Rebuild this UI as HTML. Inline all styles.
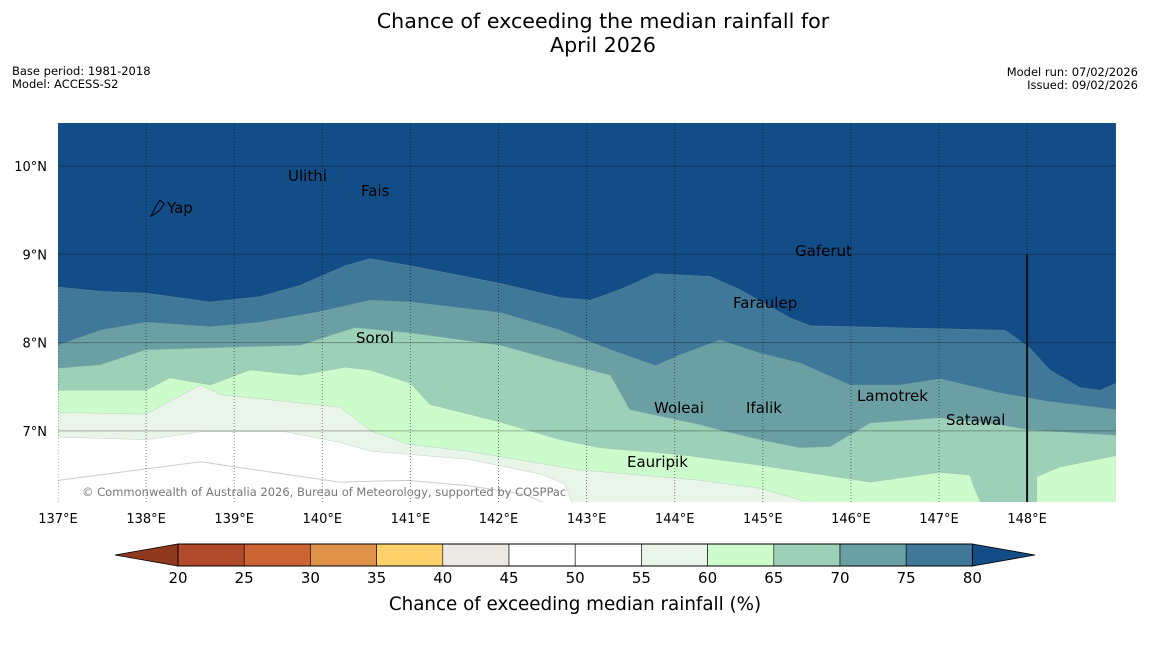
<!DOCTYPE html>
<html><head><meta charset="utf-8"><style>
body{margin:0;background:#fff;width:1150px;height:644px;overflow:hidden;font-family:"Liberation Sans","DejaVu Sans",sans-serif}
svg text{font-family:"DejaVu Sans","Liberation Sans",sans-serif}
</style></head><body>
<svg id="chart" width="1150" height="644" xmlns="http://www.w3.org/2000/svg">
<text x="603" y="28" font-size="20.6" text-anchor="middle">Chance of exceeding the median rainfall for</text>
<text x="603" y="52" font-size="20.6" text-anchor="middle">April 2026</text>
<text x="12" y="75" font-size="11.5">Base period: 1981-2018</text>
<text x="12" y="88" font-size="11.5">Model: ACCESS-S2</text>
<text x="1138" y="76" font-size="11.5" text-anchor="end">Model run: 07/02/2026</text>
<text x="1138" y="89" font-size="11.5" text-anchor="end">Issued: 09/02/2026</text>
<defs><clipPath id="mapclip"><rect x="58" y="123" width="1058" height="379"/></clipPath></defs>
<g id="map" clip-path="url(#mapclip)"></g>
<g id="axes"></g>
<g id="cbar"></g>
<text x="575" y="610" font-size="18.3" text-anchor="middle">Chance of exceeding median rainfall (%)</text>
</svg>
<script>
const lonMin=137, lonMax=149.01, latMin=6.15, latMax=10.49;
const lonTicks=[137,138,139,140,141,142,143,144,145,146,147,148];
const latTicks=[7,8,9,10];
// contour boundaries (lon, lat) — region above each boundary gets the fill colour
const c55Lon=[137,138.0,138.62,139.58,140.2,140.55,141.65,142.48,142.75,142.85];
const c55Lat=[6.93,6.90,6.99,6.99,6.87,6.77,6.68,6.51,6.40,6.15];
const c60Lon=[137,138.0,138.62,138.85,140.2,140.55,140.97,141.65,142.9,143.38,144.29,144.97,145.42,145.54];
const c60Lat=[7.21,7.19,7.52,7.41,7.27,7.00,6.85,6.77,6.56,6.52,6.44,6.35,6.22,6.15];
const c65Lon=[137,138.0,138.27,138.73,139.18,139.75,140.26,140.54,141.0,141.22,142.02,142.7,143.15,144.06,144.97,146.22,147.01,147.35,147.41,147.49,148.11,148.11,148.37,149.01];
const c65Lat=[7.46,7.46,7.60,7.52,7.69,7.63,7.72,7.69,7.54,7.30,7.10,6.90,6.81,6.73,6.61,6.42,6.53,6.50,6.33,6.15,6.15,6.48,6.59,6.72];
const c70Lon=[137,137.48,138.0,138.73,139.75,140.37,141.0,142.02,142.7,143.27,143.49,144.29,144.51,144.97,145.42,145.76,146.22,147.01,147.69,148.03,149.01];
const c70Lat=[7.71,7.75,7.92,7.94,7.97,8.17,8.11,7.97,7.78,7.63,7.24,7.07,7.01,6.90,6.81,6.82,7.09,7.15,7.07,7.01,6.95];
const c75Lon=[137,137.48,138.0,138.73,139.29,139.97,140.54,141.0,142.02,142.7,143.27,143.78,144.06,144.51,144.97,145.42,145.99,146.56,147.01,147.69,148.26,149.01];
const c75Lat=[7.97,8.14,8.23,8.18,8.23,8.35,8.48,8.46,8.34,8.14,7.92,7.74,7.86,8.03,7.88,7.77,7.52,7.52,7.59,7.43,7.33,7.24];
const c80Lon=[137,137.48,138.0,138.73,139.29,139.75,140.26,140.54,141.0,142.02,142.7,143.04,143.38,143.78,144.4,144.74,145.31,145.54,147.75,148.03,148.26,148.6,148.83,149.01];
const c80Lat=[8.63,8.58,8.56,8.46,8.52,8.65,8.87,8.95,8.87,8.67,8.51,8.48,8.60,8.78,8.75,8.60,8.28,8.19,8.14,7.94,7.69,7.49,7.46,7.54];
const c50Lon=[137,138.62,140.2,140.97,141.65,142.3,142.6];
const c50Lat=[6.44,6.65,6.42,6.44,6.38,6.28,6.15];
const cbLevels=[20,25,30,35,40,45,50,55,60,65,70,75,80];
const cbColors=["#b14a2a","#cc6433","#e09248","#fdd06a","#ece8e4","#ffffff","#ffffff","#eaf5ea","#ccfccc","#9dd0b8","#6aa0a4","#3f7898"];
const cbLow="#8f3a1e", cbHigh="#134d87";

const NS="http://www.w3.org/2000/svg";
const X=lon=>58+(lon-137)*88.1;
const Y=lat=>166-(lat-10)*88.3;
function mk(tag,attrs,parent){const e=document.createElementNS(NS,tag);for(const k in attrs)e.setAttribute(k,attrs[k]);parent.appendChild(e);return e;}
const map=document.getElementById('map');
let bg=mk('rect',{x:58,y:123,width:1058,height:379,fill:'#ffffff'},map);


const bands=[[c55Lon,c55Lat,'#eaf5ea','band-55-60'],[c60Lon,c60Lat,'#ccfccc','band-60-65'],[c65Lon,c65Lat,'#9dd0b8','band-65-70'],[c70Lon,c70Lat,'#6aa0a4','band-70-75'],[c75Lon,c75Lat,'#3f7898','band-75-80'],[c80Lon,c80Lat,'#134d87','band-80-plus']];
bands.forEach(([lo,la,col,name])=>{
  let d='';
  lo.forEach((v,i)=>{d+=(i?'L':'M')+X(v).toFixed(1)+','+Y(la[i]).toFixed(1);});
  const last=la[la.length-1];
  d+='L'+X(lonMax)+','+Y(last)+'L'+X(lonMax)+','+Y(latMax+0.1)+'L'+X(lonMin)+','+Y(latMax+0.1)+'Z';
  const p=mk('path',{d:d,fill:col,stroke:'#8fa8a0','stroke-width':0.5,'stroke-opacity':0.5},map);
  
  
});
let d50='';c50Lon.forEach((v,i)=>{d50+=(i?'L':'M')+X(v)+','+Y(c50Lat[i]);});
let l50=mk('path',{d:d50,fill:'none',stroke:'#cccccc','stroke-width':1},map);


latTicks.forEach(v=>{
  const g=mk('line',{x1:58,x2:1116,y1:Y(v),y2:Y(v),stroke:'#000','stroke-opacity':0.3,'stroke-width':1},map);
  
  
});
lonTicks.forEach(v=>{
  const g=mk('line',{x1:X(v),x2:X(v),y1:123,y2:502,stroke:'#000','stroke-opacity':0.5,'stroke-width':1,'stroke-dasharray':'1,2'},map);
  
  
});
let vl=mk('line',{x1:X(148),x2:X(148),y1:Y(9),y2:502,stroke:'#111','stroke-width':2},map);


const places=[['Ulithi',288,181],['Fais',361,196],['Yap',167,213],['Gaferut',795,256],['Faraulep',733,308],['Sorol',356,343],['Woleai',654,413],['Ifalik',746,413],['Lamotrek',857,401],['Satawal',946,425],['Eauripik',627,467]];
places.forEach(([n,x,y])=>{
  const t=mk('text',{x:x,y:y,'font-size':15,fill:'#000'},map);t.textContent=n;
  
  
});
let yap=mk('path',{d:'M151,216 L156,206 L160,200 L164,204 L160,210 L155,214 Z',fill:'none',stroke:'#000','stroke-width':1},map);


let cp=mk('text',{x:82,y:496,'font-size':11.5,fill:'#777'},map);cp.textContent='© Commonwealth of Australia 2026, Bureau of Meteorology, supported by COSPPac';


const axes=document.getElementById('axes');
lonTicks.forEach(v=>{
  const t=mk('text',{x:X(v),y:523,'font-size':13,'text-anchor':'middle'},axes);t.textContent=v+'°E';
  
  
});
latTicks.forEach(v=>{
  const t=mk('text',{x:47,y:Y(v)+5,'font-size':13,'text-anchor':'end'},axes);t.textContent=v+'°N';
  
  
});
const cb=document.getElementById('cbar');
const cx0=178,cw=66.2,cy=544,ch=22;
let lt=mk('polygon',{points:`115,555 ${cx0},${cy} ${cx0},${cy+ch}`,fill:cbLow,stroke:'#000','stroke-width':0.8},cb);


const cx1=cx0+cw*cbColors.length;
let ht=mk('polygon',{points:`${cx1},${cy} 1035,555 ${cx1},${cy+ch}`,fill:cbHigh,stroke:'#000','stroke-width':0.8},cb);


cbColors.forEach((c,i)=>{
  const r=mk('rect',{x:cx0+i*cw,y:cy,width:cw,height:ch,fill:c,stroke:'#000','stroke-width':0.6},cb);
  
  
});
mk('rect',{x:cx0,y:cy,width:cx1-cx0,height:ch,fill:'none',stroke:'#000','stroke-width':1},cb);
cbLevels.forEach((v,i)=>{
  const t=mk('text',{x:cx0+i*cw,y:583,'font-size':15,'text-anchor':'middle'},cb);t.textContent=v;
  
  
});
</script>
</body></html>
